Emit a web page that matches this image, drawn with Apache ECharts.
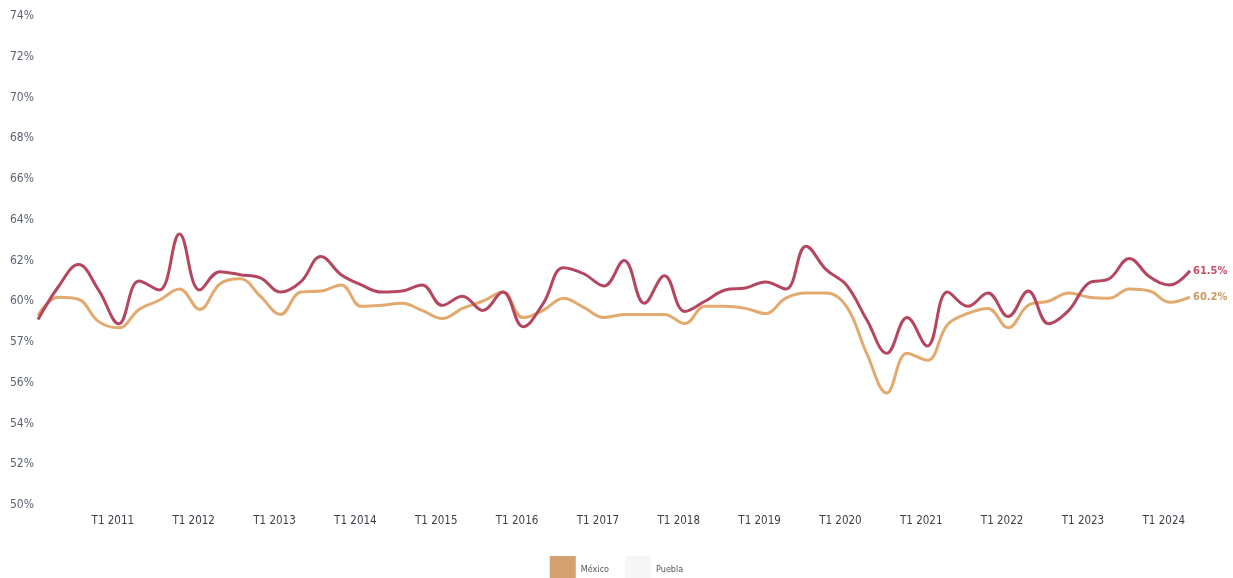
<!DOCTYPE html>
<html>
<head>
<meta charset="utf-8">
<script src="https://cdn.jsdelivr.net/npm/echarts@6/dist/echarts.min.js"></script>
<style>
html,body{margin:0;padding:0;background:#fff;}
#chart{width:1233px;height:578px;}
</style>
</head>
<body>
<div id="chart"></div>
<script>
const years = [2010,2011,2012,2013,2014,2015,2016,2017,2018,2019,2020,2021,2022,2023,2024];
const quarters = ['T1','T2','T3','T4'];
const lastYearQuarters = 2;
const categories = [];
years.forEach((y, yi) => {
  const n = (yi === years.length - 1) ? lastYearQuarters : 4;
  for (let q = 0; q < n; q++) categories.push(quarters[q] + ' ' + y);
});

const pueblaValues = [
  59.1, 60.7, 61.8, 60.55, 58.9, 61.0, 60.55, 63.3, 60.55, 61.45,
  61.3, 61.15, 60.45, 60.95, 62.2, 61.3, 60.8, 60.45, 60.5, 60.8,
  59.8, 60.25, 59.55, 60.45, 58.75, 59.9, 61.65, 61.35, 60.75, 62.0,
  59.9, 61.25, 59.5, 60.0, 60.55, 60.65, 60.95, 60.6, 62.7, 61.55,
  60.8, 59.1, 57.45, 59.2, 57.8, 60.45, 59.75, 60.4, 59.25, 60.5,
  58.9, 59.55, 60.9, 61.1, 62.1, 61.2, 60.8, 61.5
];
const mexicoValues = [
  59.3, 60.2, 60.1, 59.0, 58.7, 59.6, 60.05, 60.6, 59.6, 60.85,
  61.1, 60.25, 59.35, 60.45, 60.5, 60.8, 59.75, 59.8, 59.9, 59.55,
  59.15, 59.65, 60.0, 60.45, 59.2, 59.55, 60.15, 59.7, 59.2, 59.35,
  59.35, 59.35, 58.9, 59.75, 59.75, 59.65, 59.4, 60.15, 60.4, 60.4,
  59.75, 57.45, 55.5, 57.45, 57.1, 58.85, 59.4, 59.65, 58.7, 59.8,
  60.0, 60.4, 60.2, 60.15, 60.6, 60.5, 59.95, 60.2
];
const yTickValues = [50,52,54,56,58,60,62,64,66,68,70,72,74];
const yTickLabels = ['50%','52%','54%','56%','57%','60%','62%','64%','66%','68%','70%','72%','74%'];

const FONT = '"Liberation Sans Narrow","DejaVu Sans Condensed","Roboto",sans-serif';
const RED = '#b5465f';
const TAN = '#e2aa6f';

const chart = echarts.init(document.getElementById('chart'), null, {renderer:'canvas'});
chart.setOption({
  animation: false,
  backgroundColor: '#ffffff',
  grid: {left: 38, right: 43, top: 16, bottom: 73, containLabel: false},
  legend: {
    left: 'center',
    top: 551,
    itemWidth: 26,
    itemHeight: 27,
    itemGap: 16,
    icon: 'rect',
    textStyle: {fontFamily: FONT, fontSize: 9, color: '#555'},
    data: [
      {name: 'México', itemStyle: {color: '#d4a171'}},
      {name: 'Puebla', itemStyle: {color: '#f6f6f6'}}
    ]
  },
  xAxis: {
    type: 'category',
    data: categories,
    boundaryGap: false,
    axisLine: {show: false},
    axisTick: {show: false},
    splitLine: {show: false},
    axisLabel: {
      interval: (idx, val) => idx > 0 && idx % 4 === 0,
      fontFamily: FONT,
      fontSize: 11.5,
      color: '#3a3f48',
      margin: 10,
      padding: [0, 12, 0, 0]
    }
  },
  yAxis: {
    type: 'value',
    min: 50,
    max: 74,
    interval: 2,
    axisLine: {show: false},
    axisTick: {show: false},
    splitLine: {show: false},
    axisLabel: {
      fontFamily: FONT,
      fontSize: 12,
      color: '#5b6371',
      margin: 4,
      formatter: v => {
        const i = yTickValues.indexOf(Math.round(v));
        return i >= 0 ? yTickLabels[i] : '';
      }
    }
  },
  series: [
    {
      name: 'Puebla',
      type: 'line',
      data: pueblaValues,
      smooth: 0.4,
      showSymbol: false,
      lineStyle: {color: RED, width: 3},
      itemStyle: {color: RED},
      endLabel: {
        show: true,
        formatter: p => p.value.toFixed(1) + '%',
        color: '#c94c68',
        fontFamily: FONT,
        fontSize: 11,
        fontWeight: 'bold',
        distance: 3
      },
      z: 3
    },
    {
      name: 'México',
      type: 'line',
      data: mexicoValues,
      smooth: 0.4,
      showSymbol: false,
      lineStyle: {color: TAN, width: 3},
      itemStyle: {color: TAN},
      endLabel: {
        show: true,
        formatter: p => p.value.toFixed(1) + '%',
        color: '#c99a60',
        fontFamily: FONT,
        fontSize: 11,
        fontWeight: 'bold',
        distance: 3
      },
      z: 2
    }
  ]
});
</script>
</body>
</html>
